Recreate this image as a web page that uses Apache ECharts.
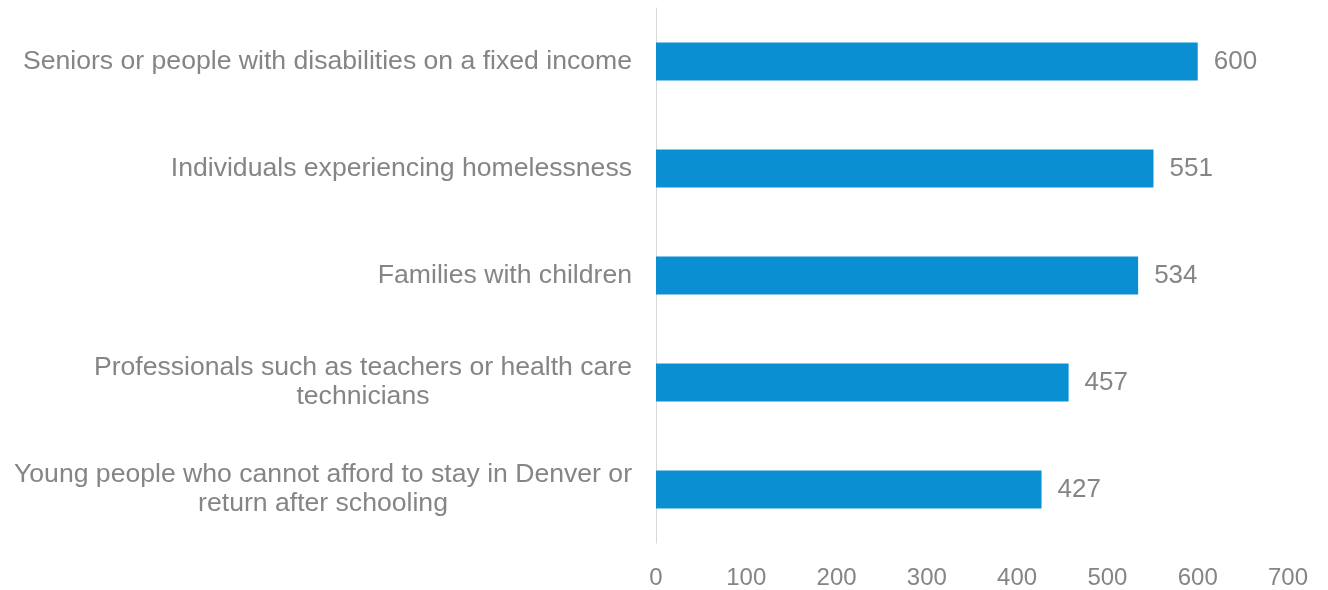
<!DOCTYPE html>
<html><head><meta charset="utf-8">
<script src="https://cdn.jsdelivr.net/npm/echarts@6/dist/echarts.min.js"></script>
<style>html,body{margin:0;padding:0;background:#fff}#c{width:1328px;height:590px}</style>
</head><body><div id="c"></div>
<script>
const categories = [
  "Seniors or people with disabilities on a fixed income",
  "Individuals experiencing homelessness",
  "Families with children",
  "Professionals such as teachers or health care\ntechnicians",
  "Young people who cannot afford to stay in Denver or\nreturn after schooling"
];
const values = [600, 551, 534, 457, 427];
const tickMax = 700;
const tickStep = 100;

const chart = echarts.init(document.getElementById('c'), null, {renderer: 'canvas'});
const font = '"Liberation Sans", Arial, sans-serif';
const gray = '#858585';
chart.setOption({
  animation: false,
  grid: {left: 656, right: 40, top: 8, bottom: 47, containLabel: false},
  xAxis: {
    type: 'value', min: 0, max: tickMax, interval: tickStep,
    axisLine: {show: false}, axisTick: {show: false},
    splitLine: {show: false},
    axisLabel: {color: gray, fontSize: 24, fontFamily: font, margin: 23}
  },
  yAxis: {
    type: 'category', data: categories.slice().reverse(),
    axisLine: {show: true, lineStyle: {color: '#d9d9d9', width: 1}},
    axisTick: {show: false},
    axisLabel: {
      margin: 24, align: 'right',
      formatter: v => v.split('\n').map(l => '{c|' + l + '}').join('\n'),
      rich: {c: {align: 'center', color: gray, fontSize: 26.6, fontFamily: font, lineHeight: 29}}
    }
  },
  series: [{
    type: 'bar', data: values.slice().reverse(), barWidth: 38,
    itemStyle: {color: '#0b8fd3'},
    label: {show: true, position: 'right', distance: 16, color: gray, fontSize: 26, fontFamily: font}
  }]
});
</script></body></html>
